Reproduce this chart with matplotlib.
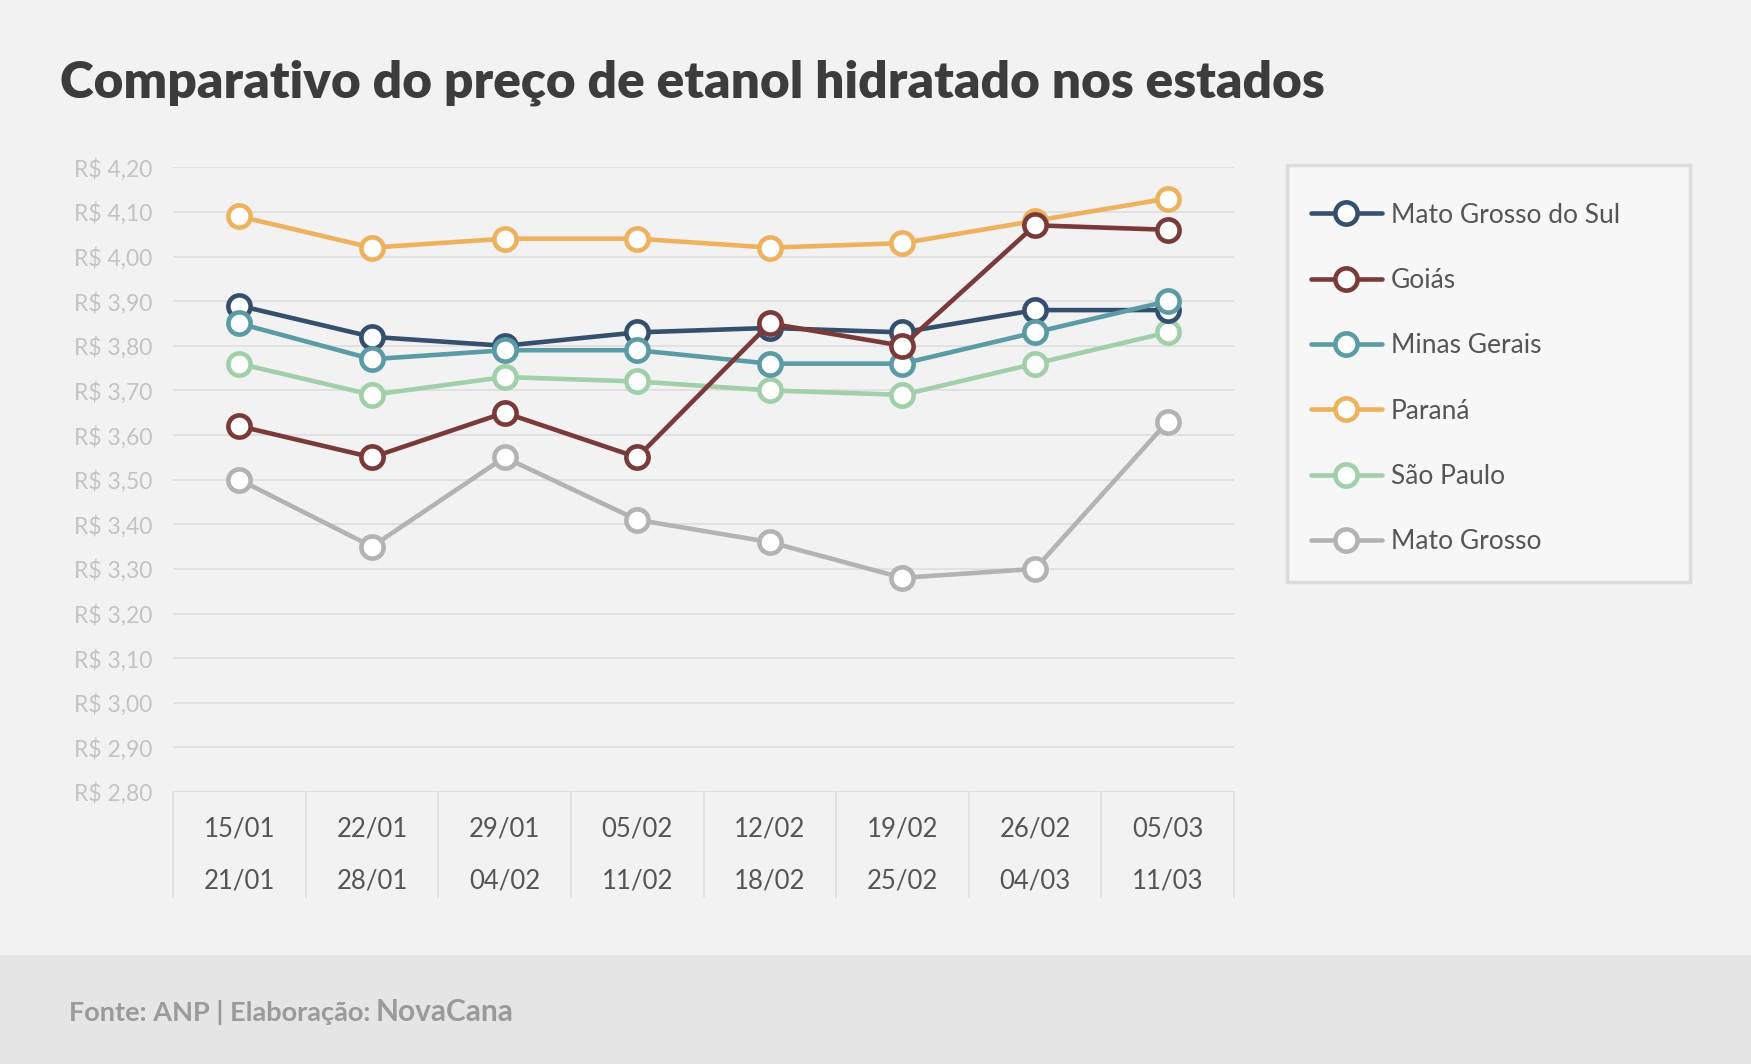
import matplotlib
matplotlib.use('Agg')
import matplotlib.pyplot as plt
from matplotlib.patches import Rectangle

plt.rcParams['font.family'] = ['Lato', 'DejaVu Sans']

# Week ranges (start / end)
week_start = ['15/01', '22/01', '29/01', '05/02', '12/02', '19/02', '26/02', '05/03']
week_end = ['21/01', '28/01', '04/02', '11/02', '18/02', '25/02', '04/03', '11/03']

states = ['Mato Grosso do Sul', 'Goiás', 'Minas Gerais', 'Paraná', 'São Paulo', 'Mato Grosso']

ms = [3.89, 3.82, 3.80, 3.83, 3.84, 3.83, 3.88, 3.88]
go = [3.62, 3.55, 3.65, 3.55, 3.85, 3.80, 4.07, 4.06]
mg = [3.85, 3.77, 3.79, 3.79, 3.76, 3.76, 3.83, 3.90]
pr = [4.09, 4.02, 4.04, 4.04, 4.02, 4.03, 4.08, 4.13]
sp = [3.76, 3.69, 3.73, 3.72, 3.70, 3.69, 3.76, 3.83]
mt = [3.50, 3.35, 3.55, 3.41, 3.36, 3.28, 3.30, 3.63]

colors = ['#34506e', '#7b3a3a', '#5a9ba6', '#eeb15e', '#a0cfaa', '#b3b3b3']
zorders = [5, 8, 7, 4, 3, 2]

W, H = 1751, 1064
fig = plt.figure(figsize=(W / 100, H / 100), dpi=100)
fig.patch.set_facecolor('#f2f2f2')


def fx(x):
    return x / W


def fy(y):
    return 1 - y / H


# footer band
fig.patches.append(Rectangle((0, 0), 1, fy(955), transform=fig.transFigure,
                             facecolor='#e5e5e5', edgecolor='none', zorder=0))

ax = fig.add_axes([fx(173), fy(792), fx(1234) - fx(173), fy(167.3) - fy(792)])
ax.set_facecolor('none')

x = list(range(len(week_start)))
series = [ms, go, mg, pr, sp, mt]
handles = []
for vals, c, z, name in zip(series, colors, zorders, states):
    h, = ax.plot(x, vals, color=c, lw=3.3, marker='o', ms=16, mfc='white',
                 mec=c, mew=3.3, zorder=z, clip_on=False, label=name,
                 solid_capstyle='round')
    handles.append(h)

ax.set_xlim(-0.5, len(x) - 0.5)
ax.set_ylim(2.80, 4.20)
yt = [2.80 + 0.1 * i for i in range(15)]
ax.set_yticks(yt)
ax.set_yticklabels([f'R$ {v:.2f}'.replace('.', ',') for v in yt])
ax.tick_params(axis='y', length=0, pad=15, labelsize=16.5, labelcolor='#c3c3c3')
ax.set_xticks([])
ax.grid(axis='y', color='#e0e0e0', lw=1.3, zorder=0)
for s in ax.spines.values():
    s.set_visible(False)
ax.axhline(2.80, color='#dcdcdc', lw=1.3, zorder=1)

# category labels (two rows) and separators
tr = ax.get_xaxis_transform()
for i in x:
    ax.text(i, -0.06, week_start[i], transform=tr, ha='center', va='center',
            fontsize=18.5, color='#555555')
    ax.text(i, -0.143, week_end[i], transform=tr, ha='center', va='center',
            fontsize=18.5, color='#555555')
for b in [i - 0.5 for i in range(len(x) + 1)]:
    ax.plot([b, b], [0, -0.168], transform=tr, color='#dedede', lw=1.2,
            clip_on=False)

# title
fig.text(fx(60), fy(98), 'Comparativo do preço de etanol hidratado nos estados',
         fontsize=37, fontweight='heavy', color='#3c3c3c', va='baseline')

# legend box
fig.patches.append(Rectangle((fx(1287), fy(582)), fx(1690) - fx(1287), fy(165) - fy(582),
                             transform=fig.transFigure, facecolor='#f7f7f7',
                             edgecolor='#dcdcdc', lw=2.5, zorder=1))
leg = fig.legend(handles=handles, loc='upper left',
                 bbox_to_anchor=(fx(1300), fy(192)), frameon=False,
                 fontsize=19, handlelength=2.7, handletextpad=0.35,
                 labelspacing=1.53, borderaxespad=0, labelcolor='#555555')

# footer
t1 = fig.text(fx(69), fy(1021), 'Fonte: ANP | Elaboração:', fontsize=19.5,
              fontweight='bold', color='#9a9a9a', va='baseline')
fig.canvas.draw()
bb = t1.get_window_extent()
fig.text(fx(bb.x1 + 5), fy(1021), 'NovaCana', fontsize=21.5,
         fontweight='bold', color='#9a9a9a', va='baseline')

fig.savefig('out.png', dpi=100, facecolor=fig.get_facecolor())
